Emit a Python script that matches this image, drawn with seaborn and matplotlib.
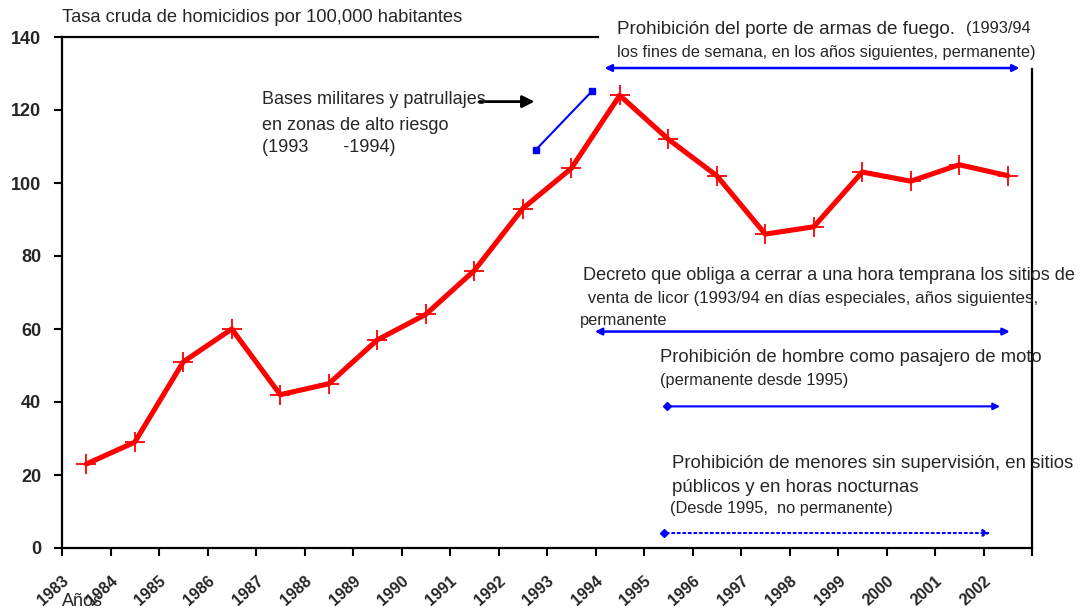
import numpy as np
import pandas as pd
import matplotlib
matplotlib.use("Agg")
import matplotlib.pyplot as plt
import seaborn as sns

# INPUT
years = [str(y) for y in range(1983, 2003)]
tasa = [23, 29, 51, 60, 42, 45, 57, 64, 76, 93, 104, 124, 112, 102, 86, 88, 103, 100.5, 105, 102]
y_title = "Tasa cruda de homicidios por 100,000 habitantes"
x_name = "Años"

df = pd.DataFrame({"pos": np.arange(len(years)) + 0.5, "tasa": tasa})

sns.set_style("white")
plt.rcParams["font.family"] = ["Liberation Sans", "DejaVu Sans"]

fig = plt.figure(figsize=(10.85, 6.11), dpi=100)
ax = fig.add_axes([62 / 1085, 1 - 548 / 611, (1032 - 62) / 1085, (548 - 37) / 611])

sns.lineplot(data=df, x="pos", y="tasa", ax=ax, color="red", lw=3.7,
             marker="+", markersize=14, markeredgewidth=1.3, markeredgecolor="red")

ax.set_xlim(0, len(years))
ax.set_ylim(0, 140)
ax.set_xticks(range(len(years) + 1))
ax.set_xticklabels(years + [""], rotation=42, ha="right", rotation_mode="anchor",
                   fontsize=11.5, fontweight="bold")
ax.set_yticks(range(0, 141, 20))
ax.set_yticklabels([str(v) for v in range(0, 141, 20)], fontsize=13, fontweight="bold")
ax.tick_params(axis="both", direction="out", length=6, width=1.5, color="black", bottom=True, left=True)
ax.tick_params(axis="x", pad=12)
ax.tick_params(axis="y", pad=9)
ax.set_xlabel("")
ax.set_ylabel("")
for s in ax.spines.values():
    s.set_color("black")
    s.set_linewidth(1.6)
ax.spines["top"].set_bounds(0, 11.05)
ax.spines["right"].set_bounds(0, 131.3)

fig.text(62 / 1085, 1 - 18 / 611, y_title, fontsize=13.2, va="center", ha="left")
fig.text(62 / 1085, 1 - 601 / 611, x_name, fontsize=13, va="center", ha="left")

def ftext(x, y, s, size):
    fig.text(x / 1085, 1 - y / 611, s, fontsize=size, va="center", ha="left")

# Bases militares
ftext(262, 100, "Bases militares y patrullajes", 13)
ftext(262, 125, "en zonas de alto riesgo", 13)
ftext(262, 148, "(1993       -1994)", 13)
ax.annotate("", xy=(9.8, 122.3), xytext=(8.55, 122.3),
            arrowprops=dict(arrowstyle="-|>", color="black", lw=2, mutation_scale=18))
ax.plot([9.77, 10.93], [109.1, 125.2], color="blue", lw=1.5, marker="s", markersize=4)

# Prohibicion armas
ftext(617, 29, "Prohibición del porte de armas de fuego.", 13.6)
ftext(966, 29, "(1993/94", 11.8)
ftext(617, 52, "los fines de semana, en los años siguientes, permanente)", 11.8)
ax.annotate("", xy=(19.8, 131.5), xytext=(11.13, 131.5),
            arrowprops=dict(arrowstyle="<|-|>", color="blue", lw=1.8, mutation_scale=10))

# Decreto licor
ftext(583, 275, "Decreto que obliga a cerrar a una hora temprana los sitios de", 13.1)
ftext(583, 299, " venta de licor (1993/94 en días especiales, años siguientes,", 12.2)
ftext(580, 321, "permanente", 11.8)
ax.annotate("", xy=(19.6, 59.3), xytext=(10.93, 59.3),
            arrowprops=dict(arrowstyle="<|-|>", color="blue", lw=1.8, mutation_scale=10))

# Hombre moto
ftext(660, 358, "Prohibición de hombre como pasajero de moto", 13.2)
ftext(660, 380, "(permanente desde 1995)", 11.8)
ax.annotate("", xy=(19.4, 38.8), xytext=(12.47, 38.8),
            arrowprops=dict(arrowstyle="-|>", color="blue", lw=1.5, mutation_scale=10))
ax.plot([12.47], [38.8], marker="D", color="blue", markersize=4)

# Menores
ftext(672, 464, "Prohibición de menores sin supervisión, en sitios", 13.4)
ftext(672, 487, "públicos y en horas nocturnas", 13.4)
ftext(670, 509, "(Desde 1995,  no permanente)", 11.8)
ax.annotate("", xy=(19.2, 4.1), xytext=(12.41, 4.1),
            arrowprops=dict(arrowstyle="-|>", color="blue", lw=1.5, ls=":", mutation_scale=10))
ax.plot([12.41], [4.1], marker="D", color="blue", markersize=4)

plt.savefig("out.png", dpi=100)
